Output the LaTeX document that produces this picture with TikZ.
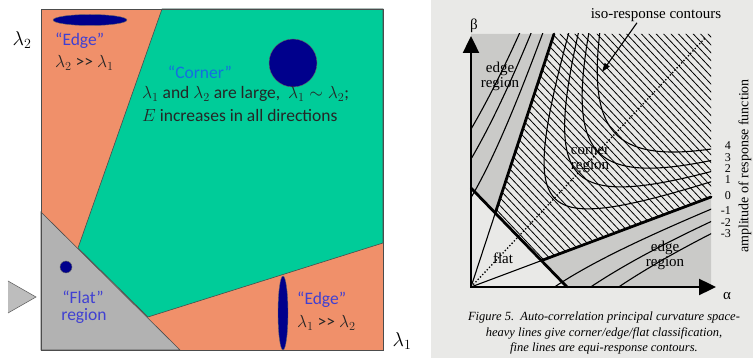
\documentclass[tikz,border=0pt]{standalone}
\usepackage{fix-cm}
\usepackage{fontspec}
\setmainfont{Carlito}
\newfontfamily\paperfont{Liberation Serif}
\usetikzlibrary{arrows.meta}

\definecolor{edgeorange}{RGB}{240,144,106}
\definecolor{cornergreen}{RGB}{0,204,153}
\definecolor{flatgray}{RGB}{178,178,178}
\definecolor{blobblue}{RGB}{0,0,140}
\definecolor{labelblue}{RGB}{64,64,210}
\definecolor{cornerblue}{RGB}{20,110,225}
\definecolor{paper}{RGB}{233,233,231}
\definecolor{stipple}{RGB}{202,202,200}

\begin{document}
\begin{tikzpicture}[x=1pt, y=-1pt,
    region/.style={draw=black!70, line width=0.6pt},
    blob/.style={fill=blobblue, draw=black!60, line width=0.4pt},
    slidetxt/.style={font=\fontsize{17.5}{21}\selectfont, inner sep=0pt},
    papertxt/.style={font=\paperfont\fontsize{15}{15}\selectfont, inner sep=0pt, align=center},
    levtxt/.style={font=\paperfont\fontsize{12}{12}\selectfont, inner sep=0pt, anchor=east},
    heavy/.style={line width=2.8pt, line cap=round},
    fine/.style={line width=1.1pt},
    hatch/.style={line width=0.8pt},
    axisline/.style={line width=2.4pt, -{Triangle[length=17pt, width=16pt]}},
]
\useasboundingbox (0,0) rectangle (753,358);
\fill[white] (0,0) rectangle (753,358);
\fill[paper] (431,0) rectangle (753,358);

% eigenvalue regions
\fill[edgeorange] (41,9) rectangle (383,350);
\filldraw[region, fill=cornergreen] (162,9) -- (383,9) -- (383,243) -- (148,317) -- (78,248) -- cycle;
\filldraw[region, fill=flatgray] (41,212) -- (180,350) -- (41,350) -- cycle;
\draw[region] (41,9) rectangle (383,350);

% pointer at the flat region
\fill[flatgray!85] (8,281) -- (36,297) -- (8,313) -- cycle;
\draw[black!60, line width=0.6pt] (8,281) -- (36,297) -- (8,313);

% window shapes
\filldraw[blob] (90,20) ellipse [x radius=37, y radius=5.5];
\filldraw[blob] (293,63) circle [radius=24];
\filldraw[blob] (66,267) circle [radius=6];
\filldraw[blob] (283,313) ellipse [x radius=5, y radius=37];

% slide labels
\node[font=\fontsize{20}{20}\selectfont, inner sep=0pt] (lamtwo) at (22,40) {$\lambda_2$};
\node[font=\fontsize{20}{20}\selectfont, inner sep=0pt] (lamone) at (402,341) {$\lambda_1$};
\node[slidetxt, text=labelblue, anchor=west] (edgeup) at (55,41) {“Edge”};
\node[slidetxt, text=black!85, anchor=west] (edgeuprel) at (55,63) {$\lambda_2$ >{}> $\lambda_1$};
\node[slidetxt, text=cornerblue] (cornertitle) at (200,72) {“Corner”};
\node[slidetxt, text=black!85, anchor=west] (cornerline) at (142,94) {$\lambda_1$ and $\lambda_2$ are large,\ \ $\lambda_1\sim\lambda_2$;};
\node[slidetxt, text=black!85, anchor=west] (cornerE) at (142,115) {$E$ increases in all directions};
\node[slidetxt, text=labelblue] (flattitle) at (83,297) {“Flat”};
\node[slidetxt, text=labelblue] (flatregion) at (84,316) {region};
\node[slidetxt, text=labelblue, anchor=west] (edgelow) at (297,300) {“Edge”};
\node[slidetxt, text=black!85, anchor=west] (edgelowrel) at (297,323) {$\lambda_1$ >{}> $\lambda_2$};

% curvature space
\coordinate (orig) at (471,287);
\coordinate (jup) at (495.3,213);
\coordinate (jlow) at (541.4,260.6);
\coordinate (flattop) at (471,188);
\coordinate (flatend) at (567,287);
\coordinate (edgetop) at (554,34);
\coordinate (edgeend) at (711,197);

\fill[stipple] (471,34) -- (edgetop) -- (jup) -- (flattop) -- cycle;
\fill[stipple] (jlow) -- (edgeend) -- (711,287) -- (flatend) -- cycle;

% hatching of the corner region
\begin{scope}
  \clip (jup) -- (edgetop) -- (711,34) -- (edgeend) -- (jlow) -- cycle;
  \foreach \x in {300,307.4,...,722} \draw[hatch] (\x,25) -- ++(250,265);
\end{scope}

% iso-response contours
\begin{scope}
  \clip (471,34) rectangle (711,287);
  \foreach \lev in {0.067,0.11,0.155,0.2}
    \draw[fine] plot[domain=-2:2, samples=120, variable=\t]
      ({471+sqrt(\lev)*(83*exp(\t)+240*exp(-\t))}, {287-sqrt(\lev)*(253*exp(\t)+90*exp(-\t))});
  \foreach \lev in {0.056,0.115,0.175} {
    \draw[fine] plot[domain=-0.5:2.5, samples=120, variable=\t]
      ({471+sqrt(\lev)*(83*exp(\t)-240*exp(-\t))}, {287-sqrt(\lev)*(253*exp(\t)-90*exp(-\t))});
    \draw[fine] plot[domain=-0.5:2.5, samples=120, variable=\t]
      ({471+sqrt(\lev)*(240*exp(\t)-83*exp(-\t))}, {287-sqrt(\lev)*(90*exp(\t)-253*exp(-\t))});
  }
\end{scope}

% classification lines
\draw[fine] (orig) -- (jup);
\draw[fine] (orig) -- (jlow);
\draw[heavy] (flattop) -- (flatend);
\draw[heavy] (jup) -- (edgetop);
\draw[heavy] (jlow) -- (edgeend);
\draw[line width=1.3pt, dotted] (orig) -- (706,37);

% axes
\draw[axisline] (471,288) -- (471,36);
\draw[axisline] (470,287) -- (716,287);

% paper labels
\node[papertxt] (beta) at (474,26) {β};
\node[papertxt] (alpha) at (727,296) {α};
\node[papertxt] (isolbl) at (656,15) {iso-response contours};
\draw[fine, -{Triangle[length=9pt, width=6pt]}] (isolbl.south) ++(-19,1) -- (602,72);
\node[papertxt] (edgeregup) at (500,76) {edge\\region};
\node[papertxt] (cornerreg) at (590,160) {corner\\region};
\node[papertxt] (flatreg) at (503,258) {flat};
\node[papertxt] (edgereglow) at (665,255) {edge\\region};
\foreach \v/\y in {4/146,3/158,2/169,1/180,0/196,-1/211,-2/223,-3/234}
  \node[levtxt] (lvl\v) at (731,\y) {\v};
\node[papertxt, font=\paperfont\fontsize{14}{14}\selectfont, rotate=90] (amplbl) at (745,166) {amplitude of response function};
\node[papertxt, font=\paperfont\itshape\fontsize{12.5}{15.5}\selectfont] (caption) at (604,333)
  {Figure 5.\ \ Auto-correlation principal curvature space-\\heavy lines give corner/edge/flat classification,\\fine lines are equi-response contours.};
\end{tikzpicture}
\end{document}
